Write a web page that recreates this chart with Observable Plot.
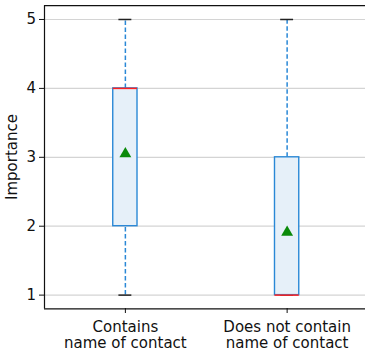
<!DOCTYPE html>
<html>
<head>
<meta charset="utf-8">
<script src="https://cdn.jsdelivr.net/npm/d3@7"></script>
<script src="https://cdn.jsdelivr.net/npm/@observablehq/plot@0.6"></script>
<style>
  html, body { margin: 0; padding: 0; background: white; }
  svg { overflow: hidden; }
</style>
</head>
<body>
<div id="chart"></div>
<script>
const categories = ["Contains\nname of contact", "Does not contain\nname of contact"];
const positions = [1, 2];
const whiskerLow = [1, 1];
const q1 = [2, 1];
const median = [4, 1];
const q3 = [4, 3];
const whiskerHigh = [5, 5];
const means = [3.07, 1.93];
const yTicks = [1, 2, 3, 4, 5];

const data = categories.map((c, i) => ({
  cat: c, pos: positions[i], lo: whiskerLow[i], q1: q1[i], med: median[i],
  q3: q3[i], hi: whiskerHigh[i], mean: means[i]
}));

const boxHalf = 0.075, capHalf = 0.04;
const blue = "#2a88d6";

const chart = Plot.plot({
  width: 365,
  height: 353,
  marginLeft: 44,
  marginRight: 0,
  marginTop: 5,
  marginBottom: 45,
  style: { fontFamily: "DejaVu Sans", fontSize: "15px", background: "white", color: "#111" },
  x: { type: "linear", domain: [0.5, 2.5], range: [44, 367.5] },
  y: { domain: [0.8, 5.2], range: [308.4, 5.2] },
  marks: [
    Plot.ruleY(yTicks, { y: d => d, x1: 0.5, x2: 2.5, stroke: "#d4d4d4", strokeWidth: 1.2 }),
    // whiskers
    Plot.ruleX(data, { x: "pos", y1: "q3", y2: "hi", stroke: blue, strokeWidth: 1.5, strokeDasharray: "4.5,2.5" }),
    Plot.ruleX(data, { x: "pos", y1: "lo", y2: "q1", stroke: blue, strokeWidth: 1.5, strokeDasharray: "4.5,2.5" }),
    // caps
    Plot.ruleY(data, { y: "hi", x1: d => d.pos - capHalf, x2: d => d.pos + capHalf, stroke: "#222", strokeWidth: 1.5 }),
    Plot.ruleY(data, { y: "lo", x1: d => d.pos - capHalf, x2: d => d.pos + capHalf, stroke: "#222", strokeWidth: 1.5 }),
    // boxes
    Plot.rect(data, { x1: d => d.pos - boxHalf, x2: d => d.pos + boxHalf, y1: "q1", y2: "q3", fill: "#e6f0f9", stroke: blue, strokeWidth: 1.4 }),
    // medians
    Plot.ruleY(data, { y: "med", x1: d => d.pos - boxHalf, x2: d => d.pos + boxHalf, stroke: "#ff2020", strokeWidth: 1.5 }),
    // means
    Plot.dot(data, { x: "pos", y: "mean", symbol: "triangle", fill: "#0a8a0a", r: 4.4, dy: 1.4 }),
    // frame spines
    Plot.ruleX([0.5], { x: d => d, y1: 0.8, y2: 5.2, stroke: "#111", strokeWidth: 1.2 }),
    Plot.ruleX([2.5], { x: d => d, y1: 0.8, y2: 5.2, stroke: "#111", strokeWidth: 1.2 }),
    Plot.ruleY([0.8, 5.2], { y: d => d, x1: 0.5, x2: 2.5, stroke: "#111", strokeWidth: 1.2 }),
    // axes
    Plot.axisY(yTicks, { tickSize: 5, tickPadding: 3.5, label: null, fontSize: 15, stroke: "#111",
      tickFormat: d3.format("d") }),
    Plot.axisX(positions, { tickSize: 5, tickPadding: 6.5, label: null, fontSize: 15, lineHeight: 1.1, stroke: "#111",
      tickFormat: d => categories[positions.indexOf(d)] }),
    Plot.text(["Importance"], { text: d => d, frameAnchor: "left", textAnchor: "middle", rotate: -90, dx: -32.5, fontSize: 15, fill: "#111" })
  ]
});
document.getElementById("chart").appendChild(chart);
</script>
</body>
</html>
